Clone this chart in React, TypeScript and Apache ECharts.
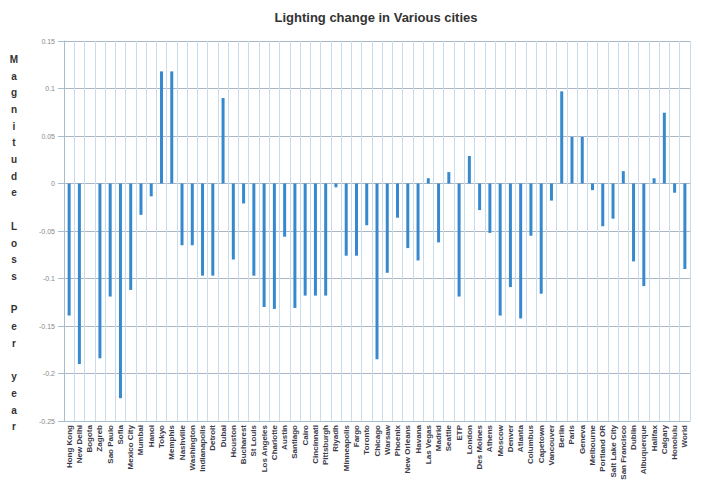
import React, { useEffect, useRef } from "react";
import * as echarts from "echarts";

const cities: string[] = [
  "Hong Kong", "New Delhi", "Bogota", "Zagreb", "Sao Paulo", "Sofia", "Mexico City", "Mumbai", "Hanoi", "Tokyo",
  "Memphis", "Nashville", "Washington", "Indianapolis", "Detroit", "Dubai", "Houston", "Bucharest", "St Louis", "Los Angeles",
  "Charlotte", "Austin", "Santiago", "Cairo", "Cincinnati", "Pittsburgh", "Riyadh", "Minneapolis", "Fargo", "Toronto",
  "Chicago", "Warsaw", "Phoenix", "New Orleans", "Havana", "Las Vegas", "Madrid", "Seattle", "ETP", "London",
  "Des Moines", "Athens", "Moscow", "Denver", "Atlanta", "Columbus", "Capetown", "Vancouver", "Berlin", "Paris",
  "Geneva", "Melbourne", "Portland OR", "Salt Lake City", "San Francisco", "Dublin", "Albuquerque", "Halifax", "Calgary", "Honolulu",
  "World",
];

const changes: number[] = [
  -0.139, -0.19, 0, -0.184, -0.119, -0.226, -0.112, -0.033, -0.0135, 0.118,
  0.118, -0.065, -0.065, -0.097, -0.097, 0.09, -0.08, -0.021, -0.097, -0.13,
  -0.132, -0.056, -0.131, -0.118, -0.118, -0.118, -0.004, -0.076, -0.076, -0.044,
  -0.185, -0.094, -0.036, -0.068, -0.081, 0.0055, -0.062, 0.012, -0.119, 0.029,
  -0.028, -0.052, -0.139, -0.109, -0.142, -0.055, -0.116, -0.018, 0.097, 0.049,
  0.049, -0.007, -0.045, -0.037, 0.013, -0.082, -0.108, 0.0055, 0.0745, -0.0097,
  -0.09,
];

const yTicks: number[] = [-0.25, -0.2, -0.15, -0.1, -0.05, 0, 0.05, 0.1, 0.15];

const chartTitle = "Lighting change in Various cities";
const yAxisTitle = "Magnitude Loss Per year";

export default function App() {
  const ref = useRef<HTMLDivElement | null>(null);

  useEffect(() => {
    document.body.style.margin = "0";
    if (!ref.current) return;
    const chart = echarts.init(ref.current, null, { renderer: "svg" });
    const verticalName = yAxisTitle
      .split(" ")
      .map((w) => w.split("").join("\n"))
      .join("\n\n");
    chart.setOption({
      animation: false,
      backgroundColor: "#ffffff",
      grid: { left: 64, right: 12, top: 41, bottom: 68 },
      graphic: [
        {
          type: "text",
          x: 376,
          y: 17,
          style: {
            text: chartTitle,
            fontFamily: "Liberation Sans",
            fontWeight: "bold",
            fontSize: 13,
            fill: "#333333",
            textAlign: "center",
            textVerticalAlign: "middle",
          },
        },
        {
          type: "text",
          x: 14,
          y: 243,
          style: {
            text: verticalName,
            fontFamily: "Liberation Sans",
            fontWeight: "bold",
            fontSize: 10,
            lineHeight: 16.7,
            fill: "#333333",
            textAlign: "center",
            textVerticalAlign: "middle",
          },
        },
      ],
      xAxis: {
        type: "category",
        data: cities,
        position: "bottom",
        boundaryGap: true,
        axisLine: { onZero: false, lineStyle: { color: "#a9bccd", width: 1 } },
        axisTick: { show: false },
        axisLabel: {
          interval: 0,
          rotate: 90,
          fontSize: 8,
          fontWeight: "bold",
          fontFamily: "Liberation Sans",
          color: "#3a3a4a",
          margin: 4,
        },
        splitLine: { show: true, interval: 0, lineStyle: { color: "#c9dceb", width: 1 } },
      },
      yAxis: {
        type: "value",
        min: yTicks[0],
        max: yTicks[yTicks.length - 1],
        interval: 0.05,
        axisLine: { show: true, lineStyle: { color: "#a9bccd" } },
        axisTick: { show: true, inside: false, length: 6, lineStyle: { color: "#a9bccd" } },
        axisLabel: {
          fontSize: 7,
          color: "#888888",
          fontFamily: "Liberation Sans",
          margin: 9,
          formatter: (v: number) => {
            const r = Math.round(v * 100) / 100;
            return String(r);
          },
        },
        splitLine: { show: true, lineStyle: { color: "#aab6c4", width: 1 } },
      },
      series: [
        {
          type: "bar",
          data: changes,
          barWidth: 3,
          itemStyle: { color: "#3689cf" },
        },
      ],
    });
    return () => chart.dispose();
  }, []);

  return <div ref={ref} style={{ width: 702, height: 489 }} />;
}
